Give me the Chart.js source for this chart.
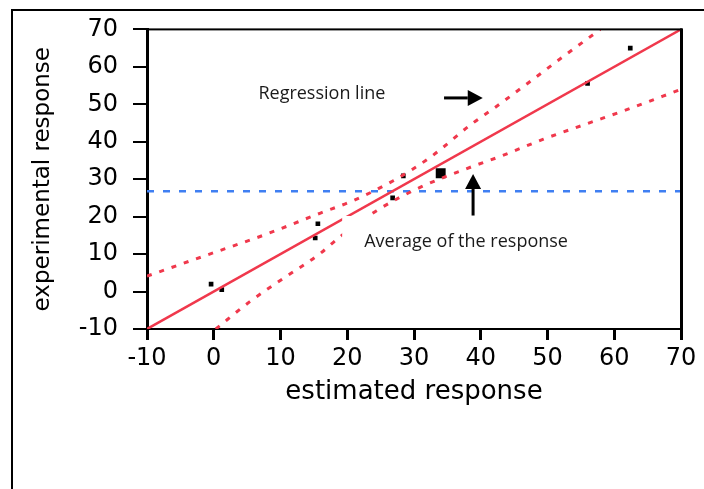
<!DOCTYPE html>
<html>
<head>
<meta charset="utf-8">
<title>experimental vs estimated response</title>
<script src="https://cdn.jsdelivr.net/npm/chart.js@4.4.1/dist/chart.umd.min.js"></script>
<style>
  html, body { margin: 0; padding: 0; background: #fff; }
  #chart { display: block; }
</style>
</head>
<body>
<canvas id="chart" width="704" height="489"></canvas>
<script>
// observed runs (estimated vs experimental)
const estimated = [-0.4, 1.2, 15.2, 15.6, 26.8, 28.4, 56.0, 62.4];
const experimental = [2.0, 0.5, 14.3, 18.1, 25.0, 30.9, 55.6, 65.0];
// run drawn with the big marker
const markedEstimated = [34.0];
const markedExperimental = [31.6];

// fitted line
const fitX = [-10, 70];
const fitY = [-10, 70];

// confidence bands
const upperX = [-10, -1.1, 7.7, 15.9, 20.9, 26.9, 32.4, 38.6, 42.1, 47.1, 52.4, 57.9];
const upperY = [4.1, 9.7, 15.2, 20.9, 24.3, 29.6, 35.8, 44.7, 49.1, 55.7, 62.8, 70];
const lowerX = [0.3, 5.4, 10.4, 15.9, 18.9, 24.4, 30.9, 38.6, 43.1, 49.4, 55.9, 62.4, 70];
const lowerY = [-10, -2.7, 3.5, 10.1, 14.6, 21.6, 27.8, 33.3, 36.2, 40.7, 44.8, 48.9, 54.0];

// average of the response
const meanResponse = 26.8;
const meanX = [-10, 70];

const axisTicks = [-10, 0, 10, 20, 30, 40, 50, 60, 70];

const RED = '#f0384c';
const BLUE = '#3f7ff2';

const toPoints = (xs, ys) => xs.map((x, i) => ({ x, y: ys[i] }));

// annotation texts and arrows, placed in data units
const notes = [
  { text: 'Regression line', x: 16.2, y: 51.3, box: false },
  { text: 'Average of the response', x: 37.8, y: 11.9, box: true }
];
const arrows = [
  { from: [34.5, 51.7], to: [40.3, 51.7] },
  { from: [38.85, 20.3], to: [38.85, 31.4] }
];

const framePlugin = {
  id: 'frame',
  beforeDraw(chart) {
    const ctx = chart.ctx;
    ctx.save();
    ctx.fillStyle = '#fff';
    ctx.fillRect(0, 0, chart.width, chart.height);
    // outer frame (top + left edges visible)
    ctx.fillStyle = '#000';
    ctx.fillRect(11, 9, chart.width - 11, 2);
    ctx.fillRect(11, 9, 2, chart.height - 9);
    ctx.restore();
  },
  afterDraw(chart) {
    const { left, right, top, bottom } = chart.chartArea;
    const ctx = chart.ctx;
    ctx.save();
    ctx.fillStyle = '#000';
    ctx.fillRect(left - 1, top - 1, right - left + 2, 2);
    ctx.fillRect(right - 1, top - 1, 3, bottom - top + 2);
    ctx.restore();
  }
};

const notesPlugin = {
  id: 'notes',
  afterDatasetsDraw(chart) {
    const ctx = chart.ctx;
    const xs = chart.scales.x, ys = chart.scales.y;
    ctx.save();
    ctx.font = '18px "Open Sans"';
    ctx.textBaseline = 'alphabetic';
    ctx.textAlign = 'center';
    notes.forEach(n => {
      const px = xs.getPixelForValue(n.x);
      const py = ys.getPixelForValue(n.y);
      const w = ctx.measureText(n.text).width;
      if (n.box) {
        ctx.fillStyle = '#fff';
        ctx.fillRect(px - w / 2 - 22, py - 31, w + 44, 50);
      }
      ctx.fillStyle = '#1a1a1a';
      ctx.fillText(n.text, px, py);
    });

    ctx.strokeStyle = '#000';
    ctx.fillStyle = '#000';
    ctx.lineWidth = 3;
    arrows.forEach(a => {
      const x0 = xs.getPixelForValue(a.from[0]), y0 = ys.getPixelForValue(a.from[1]);
      const x1 = xs.getPixelForValue(a.to[0]), y1 = ys.getPixelForValue(a.to[1]);
      const ang = Math.atan2(y1 - y0, x1 - x0);
      const head = 15, half = 8;
      const bx = x1 - head * Math.cos(ang), by = y1 - head * Math.sin(ang);
      ctx.beginPath();
      ctx.moveTo(x0, y0);
      ctx.lineTo(bx, by);
      ctx.stroke();
      ctx.beginPath();
      ctx.moveTo(x1, y1);
      ctx.lineTo(bx + half * Math.sin(ang), by - half * Math.cos(ang));
      ctx.lineTo(bx - half * Math.sin(ang), by + half * Math.cos(ang));
      ctx.closePath();
      ctx.fill();
    });
    ctx.restore();
  }
};

const lineSet = (label, points, color, width, dash) => ({
  label,
  data: points,
  showLine: true,
  cubicInterpolationMode: 'monotone',
  borderColor: color,
  borderWidth: width,
  borderDash: dash,
  pointRadius: 0,
  fill: false
});

new Chart(document.getElementById('chart'), {
  type: 'scatter',
  data: {
    datasets: [
      lineSet('Upper band', toPoints(upperX, upperY), RED, 3, [5, 8]),
      lineSet('Lower band', toPoints(lowerX, lowerY), RED, 3, [5, 8]),
      lineSet('Regression line', toPoints(fitX, fitY), RED, 2.5, []),
      lineSet('Average of the response', toPoints(meanX, meanX.map(() => meanResponse)), BLUE, 2.5, [7, 9]),
      {
        label: 'Runs',
        data: toPoints(estimated, experimental),
        pointStyle: 'rect',
        pointRadius: 3.3,
        pointBorderWidth: 0,
        backgroundColor: '#000',
        borderColor: '#000'
      },
      {
        label: 'Marked run',
        data: toPoints(markedEstimated, markedExperimental),
        pointStyle: 'rect',
        pointRadius: 7,
        pointBorderWidth: 0,
        backgroundColor: '#000',
        borderColor: '#000'
      }
    ]
  },
  options: {
    responsive: false,
    animation: false,
    devicePixelRatio: 1,
    layout: { padding: { top: 28, right: 23, left: 0, bottom: 0 } },
    plugins: { legend: { display: false }, tooltip: { enabled: false } },
    scales: {
      x: {
        type: 'linear',
        min: -10,
        max: 70,
        afterBuildTicks: s => { s.ticks = axisTicks.map(v => ({ value: v })); },
        afterFit: s => { s.height = 160; },
        border: { display: true, color: '#000', width: 2 },
        grid: { drawOnChartArea: false, drawTicks: true, tickLength: 11, color: '#000', lineWidth: 3 },
        ticks: { color: '#000', padding: 4, maxRotation: 0, font: { family: 'DejaVu Sans', size: 24 } },
        title: {
          display: true,
          text: 'estimated response',
          color: '#000',
          font: { family: 'DejaVu Sans', size: 26 },
          padding: { top: 0, bottom: 81 }
        }
      },
      y: {
        type: 'linear',
        min: -10,
        max: 70,
        afterBuildTicks: s => { s.ticks = axisTicks.map(v => ({ value: v })); },
        afterFit: s => { s.width = 147; },
        border: { display: true, color: '#000', width: 3 },
        grid: { drawOnChartArea: false, drawTicks: true, tickLength: 14, color: '#000', lineWidth: 2 },
        ticks: { color: '#000', padding: 15, font: { family: 'DejaVu Sans', size: 24 } },
        title: {
          display: true,
          text: 'experimental response',
          color: '#000',
          font: { family: 'DejaVu Sans', size: 23 },
          padding: { top: 29, bottom: 0 }
        }
      }
    }
  },
  plugins: [framePlugin, notesPlugin]
});
</script>
</body>
</html>
